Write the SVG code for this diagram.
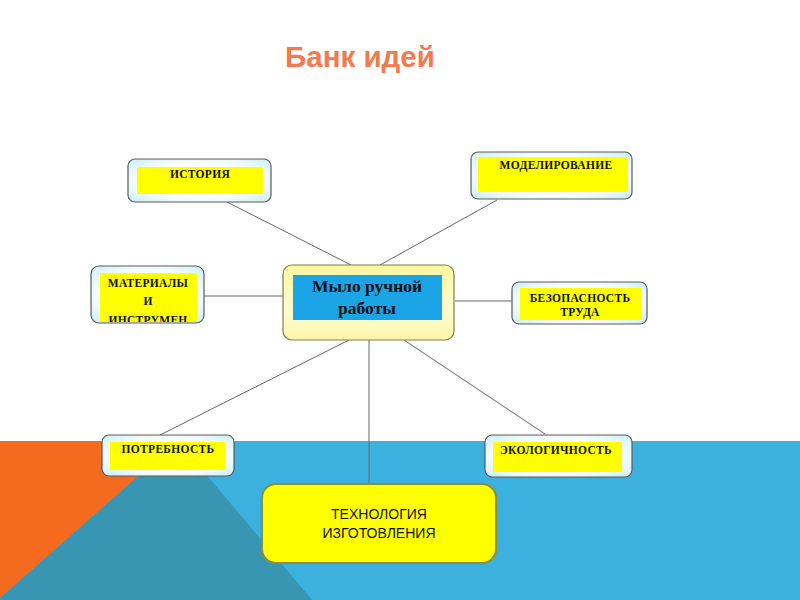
<svg xmlns="http://www.w3.org/2000/svg" width="800" height="600" viewBox="0 0 800 600">
<defs>
<radialGradient id="cyanFill" cx="50%" cy="50%" r="70%">
<stop offset="0.55" stop-color="#ffffff"/>
<stop offset="1" stop-color="#c9eef5"/>
</radialGradient>
<linearGradient id="yelFill" x1="0" y1="0" x2="0" y2="1">
<stop offset="0" stop-color="#fbf7a0"/>
<stop offset="0.6" stop-color="#fffbd0"/>
<stop offset="1" stop-color="#fcf6a8"/>
</linearGradient>
<clipPath id="matClip"><rect x="100" y="273" width="97" height="49"/></clipPath>
</defs>
<style>
.outer{fill:url(#cyanFill);stroke:#5a5a5a;stroke-width:1.2}
.inner{fill:#ffff00}
.lbl{font-family:"Liberation Serif","DejaVu Serif",serif;font-weight:bold;font-size:11.5px;letter-spacing:0.3px;fill:#111;text-anchor:middle}
.conn{stroke:#666;stroke-width:1;fill:none}
</style>
<rect x="0" y="0" width="800" height="600" fill="#ffffff"/>
<g id="background">
<rect x="0" y="441" width="800" height="159" fill="#3cb1de"/>
<polygon points="0,441 178,441 0,598" fill="#f46a1f"/>
<polygon points="178,441 312,600 0,600 0,598" fill="#3996b3"/>
</g>
<text x="360" y="67" font-family="Liberation Sans, Arial, sans-serif" font-weight="bold" font-size="29.5" fill="#f27a4c" text-anchor="middle">Банк идей</text>
<g id="connectors">
<line class="conn" x1="227" y1="202" x2="351" y2="265"/>
<line class="conn" x1="497" y1="200" x2="380" y2="265"/>
<line class="conn" x1="204" y1="296" x2="283" y2="296"/>
<line class="conn" x1="455" y1="301" x2="513" y2="301"/>
<line class="conn" x1="160" y1="435" x2="349" y2="340"/>
<line class="conn" x1="369" y1="340" x2="369" y2="484"/>
<line class="conn" x1="404" y1="340" x2="545" y2="434"/>
</g>
<g id="istoriya">
<rect class="outer" x="128" y="159" width="143" height="43" rx="7"/>
<rect class="inner" x="137" y="167" width="126" height="27"/>
<text class="lbl" x="200" y="178">ИСТОРИЯ</text>
</g>
<g id="modelirovanie">
<rect class="outer" x="471" y="152" width="161" height="47" rx="7"/>
<rect class="inner" x="478" y="157" width="150" height="35"/>
<text class="lbl" x="556" y="169">МОДЕЛИРОВАНИЕ</text>
</g>
<g id="materialy">
<rect class="outer" x="91" y="266" width="113" height="57" rx="8"/>
<rect class="inner" x="100" y="273" width="97" height="49"/>
<g clip-path="url(#matClip)">
<text class="lbl" x="148" y="287">МАТЕРИАЛЫ</text>
<text class="lbl" x="148" y="305">И</text>
<text class="lbl" x="148" y="324">ИНСТРУМЕН</text>
</g>
</g>
<g id="center">
<rect x="283" y="265" width="171" height="75" rx="9" fill="url(#yelFill)" stroke="#7d7d50" stroke-width="1.2"/>
<rect x="293" y="275" width="149" height="45" fill="#1ba4e6"/>
<text x="367" y="292" font-family="Liberation Serif, DejaVu Serif, serif" font-weight="bold" font-size="17.5" fill="#111" text-anchor="middle">Мыло ручной</text>
<text x="367" y="314" font-family="Liberation Serif, DejaVu Serif, serif" font-weight="bold" font-size="17.5" fill="#111" text-anchor="middle">работы</text>
</g>
<g id="bezopasnost">
<rect class="outer" x="512" y="282" width="135" height="42" rx="7"/>
<rect class="inner" x="520" y="288" width="121" height="32"/>
<text class="lbl" x="580" y="302">БЕЗОПАСНОСТЬ</text>
<text class="lbl" x="580" y="316">ТРУДА</text>
</g>
<g id="potrebnost">
<rect class="outer" x="102" y="435" width="132" height="41" rx="7"/>
<rect class="inner" x="110" y="442" width="115" height="28"/>
<text class="lbl" x="168" y="453">ПОТРЕБНОСТЬ</text>
</g>
<g id="ekologichnost">
<rect class="outer" x="485" y="435" width="147" height="42" rx="7"/>
<rect class="inner" x="493" y="442" width="129" height="30"/>
<text class="lbl" x="556" y="454">ЭКОЛОГИЧНОСТЬ</text>
</g>
<g id="tekhnologiya">
<rect x="262" y="484" width="234" height="79" rx="14" fill="#ffff00" stroke="#8c8c3c" stroke-width="2"/>
<text x="379" y="519" font-family="Liberation Sans, Arial, sans-serif" font-size="14" fill="#111" text-anchor="middle">ТЕХНОЛОГИЯ</text>
<text x="379" y="538" font-family="Liberation Sans, Arial, sans-serif" font-size="14" fill="#111" text-anchor="middle">ИЗГОТОВЛЕНИЯ</text>
</g>
</svg>
